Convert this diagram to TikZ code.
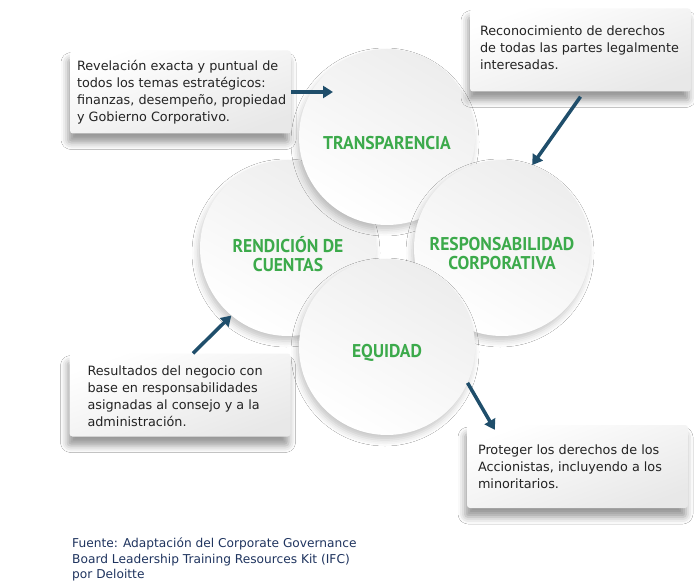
\documentclass[tikz,border=0pt]{standalone}
\usepackage{fontspec}
\setmainfont{DejaVu Sans}
\newfontfamily\pilarfont[FakeStretch=0.95]{PT Sans}
\usetikzlibrary{arrows.meta,shadows.blur}
\definecolor{verde}{RGB}{60,170,75}
\definecolor{azul}{RGB}{31,78,107}
\definecolor{marino}{RGB}{31,52,95}
\definecolor{texto}{RGB}{35,35,35}
\tikzset{
  pilar/.style    = {shape=circle, minimum size=176pt, inner sep=0pt,
                     top color=gray!14, bottom color=white, shading angle=-30,
                     blur shadow={shadow xshift=-2pt, shadow yshift=-5pt,
                                  shadow opacity=22, shadow blur radius=6pt}},
  pilarlbl/.style = {font=\pilarfont\bfseries\fontsize{18.5}{19}\selectfont,
                     text=verde, align=center},
  nota/.style     = {shape=rectangle, rounded corners=3pt,
                     minimum width=221pt, minimum height=83pt, inner sep=0pt,
                     top color=white, bottom color=gray!18, shading angle=20,
                     blur shadow={shadow xshift=-2pt, shadow yshift=-9pt,
                                  shadow opacity=40, shadow blur radius=7pt}},
  notatxt/.style  = {anchor=west, align=left, inner sep=0pt, xshift=#1,
                     font=\fontsize{12.8}{17}\selectfont, text=texto},
  flecha/.style   = {draw=azul, line width=3.5pt,
                     -{Triangle[length=10pt,width=12pt]}},
  fuente/.style   = {font=\fontsize{12.2}{15.5}\selectfont, text=marino,
                     align=left, inner sep=0pt}
}
\begin{document}
\begin{tikzpicture}[x=1pt, y=-1pt]
  \fill[white] (0,0) rectangle (694,588);
  \useasboundingbox (0,0) rectangle (694,588);

  % los cuatro pilares
  \node [pilar] (rend)   at (288,248) {};
  \node [pilar] (transp) at (387,137) {};
  \node [pilar] (resp)   at (502,248) {};
  \node [pilar] (equid)  at (387,347) {};
  \node [pilarlbl] at ([yshift=-6pt]rend.center)   {RENDICIÓN DE\\CUENTAS};
  \node [pilarlbl] at ([yshift=-6pt]transp.center) {TRANSPARENCIA};
  \node [pilarlbl] at ([yshift=-6pt]resp.center)   {RESPONSABILIDAD\\CORPORATIVA};
  \node [pilarlbl] at ([yshift=-6pt]equid.center)  {EQUIDAD};

  % notas
  \node [nota, label={[notatxt=7pt]west:{Revelación exacta y puntual de\\todos los temas estratégicos:\\finanzas, desempeño, propiedad\\y Gobierno Corporativo.}}]
    (bTransp) at (180.5,92) {};
  \node [nota, label={[notatxt=10pt, yshift=2pt]west:{Reconocimiento de derechos\\de todas las partes legalmente\\interesadas.}}]
    (bResp) at (580.5,50) {};
  \node [nota, label={[notatxt=18pt, yshift=-1pt]west:{Resultados del negocio con\\base en responsabilidades\\asignadas al consejo y a la\\administración.}}]
    (bRend) at (180,395) {};
  \node [nota, label={[notatxt=11pt]west:{Proteger los derechos de los\\Accionistas, incluyendo a los\\minoritarios.}}]
    (bEquid) at (577.5,466.5) {};

  % flechas
  \coordinate (tTransp) at (333,92);
  \draw [flecha] (bTransp.east) -- (tTransp);
  \draw [flecha] ([yshift=-5pt]bResp.south) -- (resp.70);
  \draw [flecha] ([xshift=13pt]bRend.north) -- (rend.-130);
  \draw [flecha] (equid.-24) -- ([xshift=28pt,yshift=-5pt]bEquid.north west);

  \node [fuente, anchor=north west] (fuente) at (72,538)
    {Fuente: Adaptación del Corporate Governance\\Board Leadership Training Resources Kit (IFC)\\por Deloitte};
\end{tikzpicture}
\end{document}
